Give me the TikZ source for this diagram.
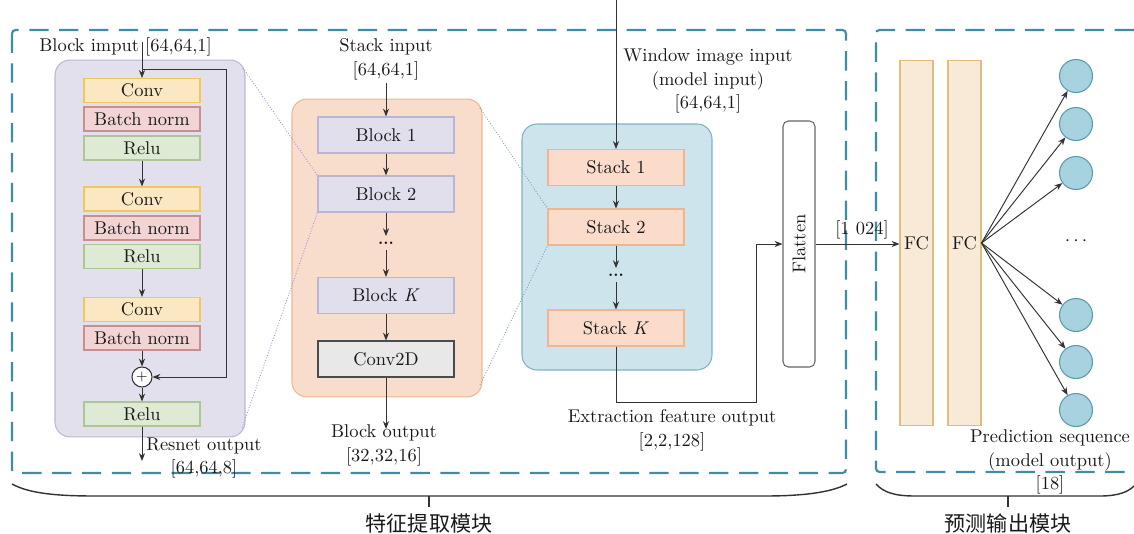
\documentclass[tikz,border=0pt]{standalone}
\usepackage{fontspec}
\newfontfamily\cjk{Noto Sans CJK SC}
\usetikzlibrary{arrows.meta}
\definecolor{dashc}{HTML}{3E8DA3}
\definecolor{purF}{HTML}{E2E0EC}\definecolor{purD}{HTML}{BDB6D4}
\definecolor{oraF}{HTML}{F9DDCC}\definecolor{oraD}{HTML}{F0B88F}
\definecolor{teaF}{HTML}{CDE4EC}\definecolor{teaD}{HTML}{7DB3C6}
\definecolor{convF}{HTML}{FBE8C2}\definecolor{convD}{HTML}{EFC85C}
\definecolor{bnF}{HTML}{F2D4D4}\definecolor{bnD}{HTML}{C98F8F}
\definecolor{reluF}{HTML}{DEEAD4}\definecolor{reluD}{HTML}{AAC795}
\definecolor{blkF}{HTML}{E2DFEC}\definecolor{blkD}{HTML}{BBB4D6}
\definecolor{stkF}{HTML}{FBDCCB}\definecolor{stkD}{HTML}{F0B48F}
\definecolor{fcF}{HTML}{F9EAD7}\definecolor{fcD}{HTML}{E0BD7A}
\definecolor{cirF}{HTML}{A6D3DF}\definecolor{cirD}{HTML}{5B9AAB}
\definecolor{lineC}{HTML}{333333}
\tikzset{
  every node/.style={font=\fontsize{10.5}{13.6}\selectfont, text=black!90},
  arr/.style={draw=lineC, line width=0.55pt, -{Stealth[length=4.5pt,width=3.5pt]}},
  plain/.style={draw=lineC, line width=0.55pt},
  dashbox/.style={draw=dashc, line width=1.2pt, dash pattern=on 11pt off 6pt},
  cont/.style={draw, line width=0.6pt, rounded corners=0.3cm, minimum width=3.8cm, inner sep=0},
  rbox/.style={draw, line width=0.6pt, minimum width=2.32cm, minimum height=0.48cm, inner sep=0},
  convbox/.style={rbox, fill=convF, draw=convD},
  bnbox/.style={rbox, fill=bnF, draw=bnD},
  relubox/.style={rbox, fill=reluF, draw=reluD},
  bigbox/.style={draw, line width=0.6pt, minimum width=2.72cm, minimum height=0.72cm, inner sep=0},
  blkbox/.style={bigbox, fill=blkF, draw=blkD},
  stkbox/.style={bigbox, fill=stkF, draw=stkD},
  fcbox/.style={draw=fcD, fill=fcF, line width=0.6pt, minimum width=0.66cm, minimum height=7.32cm, inner sep=0},
  outc/.style={circle, draw=cirD, fill=cirF, line width=0.6pt, minimum size=0.66cm, inner sep=0},
  zoomline/.style={line width=0.5pt, densely dotted},
  lbl/.style={align=center, inner sep=0},
  vdots/.style={inner sep=0, font=\bfseries\fontsize{9}{9}\selectfont},
}
\begin{document}
\begin{tikzpicture}[x=0.02cm, y=-0.02cm]
\useasboundingbox (0,0) rectangle (1134,534);
% dashed module frames
\draw[dashbox, rounded corners=2pt] (12,30) rectangle (846,473);
\draw[dashbox, rounded corners=2pt] (1134,30) -- (876,30) -- (876,472) -- (1134,472);
% containers
\node[cont, fill=purF, draw=purD, minimum height=7.54cm] (res) at (150,248.5) {};
\node[cont, fill=oraF, draw=oraD, minimum height=5.96cm] (stk) at (387,248) {};
\node[cont, fill=teaF, draw=teaD, minimum height=4.92cm] (ext) at (617,247) {};
% resnet block
\node[convbox] (c1) at (142,90.5) {Conv};
\node[bnbox] (b1) at (142,119) {Batch norm};
\node[relubox] (r1) at (142,148) {Relu};
\node[convbox] (c2) at (142,199) {Conv};
\node[bnbox] (b2) at (142,228) {Batch norm};
\node[relubox] (r2) at (142,256.5) {Relu};
\node[convbox] (c3) at (142,309.5) {Conv};
\node[bnbox] (b3) at (142,338) {Batch norm};
\node[circle, draw=lineC, fill=white, line width=0.6pt, minimum size=0.4cm, inner sep=0, font=\fontsize{8}{8}\selectfont] (plus) at (142,377) {+};
\node[relubox] (r3) at (142,414) {Relu};
\node[anchor=west, inner sep=0] (bin) at (39,47) {Block imput [64,64,1]};
\coordinate (binTop) at (142,42);
\coordinate (skA) at (142,69);
\coordinate (skB) at (226,69);
\coordinate (rOut) at (142,461);
\draw[arr] (binTop) -- (c1.north);
\draw[arr] (r1.south) -- (c2.north);
\draw[arr] (r2.south) -- (c3.north);
\draw[arr] (b3.south) -- (plus.north);
\draw[arr] (plus.south) -- (r3.north);
\draw[arr] (skA) -- (skB) |- (plus.east);
\draw[arr] (r3.south) -- (rOut);
\node[lbl] (rlab) at (204,458) {Resnet output\\{[64,64,8]}};
% stack
\node[lbl] (sin) at (386,59) {Stack input\\{[64,64,1]}};
\node[blkbox] (bk1) at (386,135) {Block 1};
\node[blkbox] (bk2) at (386,194) {Block 2};
\node[vdots] (bdots) at (386,243) {...};
\node[blkbox] (bkK) at (386,295.5) {Block \textit{K}};
\node[bigbox, fill=black!9, draw=black!70] (c2d) at (386,359) {Conv2D};
\node[lbl] (bout) at (384,445) {Block output\\{[32,32,16]}};
\coordinate (bo) at (386,429);
\draw[arr] (sin.south) ++(0,3) -- (bk1.north);
\draw[arr] (bk1.south) -- (bk2.north);
\draw[arr] (bk2.south) -- ([yshift=3pt]bdots.north);
\draw[arr] ([yshift=-3pt]bdots.south) -- (bkK.north);
\draw[arr] (bkK.south) -- (c2d.north);
\draw[arr] (c2d.south) -- (bo);
% extraction
\coordinate (winTop) at (616,0);
\node[lbl] (win) at (708,81) {Window image input\\(model input)\\{[64,64,1]}};
\node[stkbox] (s1) at (616,167.5) {Stack 1};
\node[stkbox] (s2) at (616,227) {Stack 2};
\node[vdots] (sdots) at (616,275) {...};
\node[stkbox] (sK) at (616,328) {Stack \textit{K}};
\draw[arr] (winTop) -- (s1.north);
\draw[arr] (s1.south) -- (s2.north);
\draw[arr] (s2.south) -- ([yshift=3pt]sdots.north);
\draw[arr] ([yshift=-3pt]sdots.south) -- (sK.north);
\node[lbl] (extlab) at (672,430) {Extraction feature output\\{[2,2,128]}};
% flatten
\node[draw=black!60, fill=white, line width=0.6pt, rounded corners=3pt, minimum width=0.64cm, minimum height=4.92cm, inner sep=0] (flat) at (799,244) {};
\node[rotate=90, inner sep=0] at (flat.center) {Flatten};
\coordinate (turn) at (756,402);
\draw[arr] (sK.south) |- (turn) |- (flat.west);
% zoom lines
\draw[zoomline, draw=purD!80!blue] (243,68) -- (bk2.north west);
\draw[zoomline, draw=purD!80!blue] (242,428) -- (bk2.south west);
\draw[zoomline, draw=teaD!90!black] (480,108) -- (s2.north west);
\draw[zoomline, draw=teaD!90!black] (480,385) -- (s2.south west);
% prediction
\node[fcbox] (fc1) at (916.5,243) {};
\node[fcbox] (fc2) at (964.5,243) {};
\node[inner sep=0] at (fc1.center) {FC};
\node[inner sep=0] at (fc2.center) {FC};
\draw[arr] (flat.east) -- (flat.east -| fc1.west);
\node[inner sep=0] (dim) at (862,230) {[1 024]};
\node[outc] (o1) at (1076,76) {};
\node[outc] (o2) at (1076,124) {};
\node[outc] (o3) at (1076,173) {};
\node[outc] (o4) at (1076,315) {};
\node[outc] (o5) at (1076,362) {};
\node[outc] (o6) at (1076,410) {};
\node[inner sep=0] (odots) at (1076,241) {$\cdots$};
\foreach \o in {o1,o2,o3,o4,o5,o6} \draw[arr] (fc2.east) -- (\o);
\node[lbl] (pred) at (1050,462) {Prediction sequence\\(model output)\\{[18]}};
% braces
\draw[plain, line width=0.8pt] (12,484) .. controls (30,494) and (60,496) .. (95,496) -- (765,496) .. controls (800,496) and (830,493) .. (847,484);
\draw[plain, line width=0.8pt] (429,496) -- (429,507);
\draw[plain, line width=0.8pt] (876,484) .. controls (884,493) and (896,496) .. (915,496) -- (1100,496) .. controls (1118,496) and (1128,492) .. (1134,486);
\draw[plain, line width=0.8pt] (1008,496) -- (1008,507);
\node[font=\cjk\fontsize{12}{14}\selectfont] (lab1) at (429,523) {特征提取模块};
\node[font=\cjk\fontsize{12}{14}\selectfont] (lab2) at (1008,523) {预测输出模块};
\end{tikzpicture}
\end{document}
